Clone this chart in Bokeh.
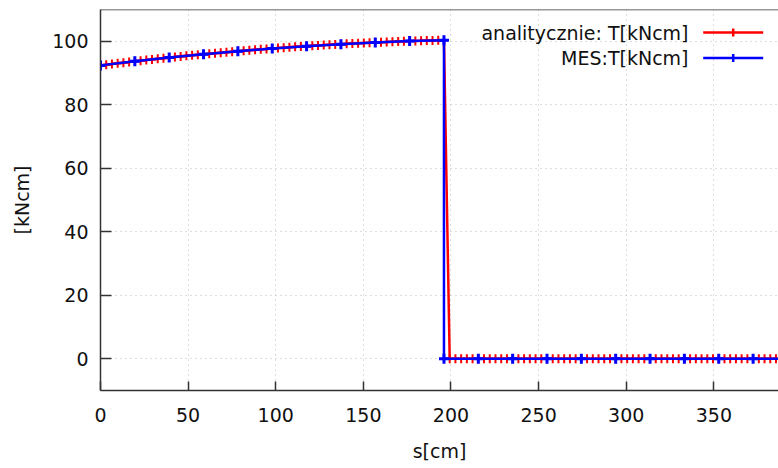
from bokeh.plotting import figure
from bokeh.models import FixedTicker, Span, Label, Arrow, Range1d
from bokeh.embed import file_html
from bokeh.resources import INLINE

# ---------------- data ----------------
# analytical solution: sampled every 392/120 cm; rising part up to s = 196 cm
red_step = 392 / 120
red_rising = [
    92.40, 92.62, 92.84, 93.05, 93.26, 93.47, 93.68, 93.88, 94.08, 94.28,
    94.47, 94.66, 94.85, 95.04, 95.22, 95.40, 95.57, 95.74, 95.91, 96.08,
    96.25, 96.41, 96.56, 96.72, 96.87, 97.02, 97.17, 97.31, 97.45, 97.59,
    97.72, 97.85, 97.98, 98.10, 98.23, 98.34, 98.46, 98.57, 98.68, 98.79,
    98.90, 99.00, 99.09, 99.19, 99.28, 99.37, 99.46, 99.54, 99.62, 99.70,
    99.77, 99.84, 99.91, 99.98, 100.04, 100.10, 100.15, 100.21, 100.26, 100.31,
    100.35,
]
red_zero_count = 60

# FEM solution: nodes every 19.6 cm, discontinuity at s = 196 cm
blue_step = 19.6
blue_rising = [92.40, 93.68, 94.85, 95.91, 96.87, 97.72, 98.46, 99.09, 99.62, 100.04, 100.35]
blue_zero_count = 11

x_ticks = [0, 50, 100, 150, 200, 250, 300, 350]
y_ticks = [0, 20, 40, 60, 80, 100]
x_label = "s[cm]"
y_label = "[kNcm]"
label_red = "analitycznie: T[kNcm]"
label_blue = "MES:T[kNcm]"

red_s = [round(i * red_step, 4) for i in range(len(red_rising) + red_zero_count)]
red_T = red_rising + [0.0] * red_zero_count

blue_s = [round(j * blue_step, 2) for j in range(len(blue_rising))] + \
         [round((len(blue_rising) - 1 + j) * blue_step, 2) for j in range(blue_zero_count)]
blue_T = blue_rising + [0.0] * blue_zero_count

# ---------------- figure ----------------
FONT = "DejaVu Sans"
DARK = "#333333"
RED = "#ff0000"
BLUE = "#0000ff"

p = figure(width=778, height=468, x_range=Range1d(0, 386.9), y_range=Range1d(-10, 110),
           output_backend="svg", toolbar_location=None,
           min_border_left=100, min_border_right=0, min_border_top=9, min_border_bottom=78)
p.outline_line_color = None
p.background_fill_color = "white"
p.border_fill_color = "white"

for ax, ticks, tick_len in ((p.xaxis, x_ticks, 9), (p.yaxis, y_ticks, 11)):
    ax.ticker = FixedTicker(ticks=ticks)
    ax.major_tick_in = tick_len
    ax.major_tick_out = 0
    ax.minor_tick_line_color = None
    ax.axis_line_color = DARK
    ax.axis_line_width = 1.5
    ax.major_tick_line_color = DARK
    ax.major_tick_line_width = 1.5
    ax.major_label_text_font = FONT
    ax.major_label_text_font_size = "19px"
    ax.major_label_text_color = "#111111"
    ax.axis_label_text_font = FONT
    ax.axis_label_text_font_size = "19px"
    ax.axis_label_text_font_style = "normal"
    ax.axis_label_text_color = "#111111"

p.xaxis.axis_label = x_label
p.yaxis.axis_label = y_label
p.xaxis.major_label_standoff = 17
p.xaxis.axis_label_standoff = 15
p.yaxis.major_label_standoff = 12
p.yaxis.axis_label_standoff = 16

for g in (p.xgrid, p.ygrid):
    g.grid_line_color = "#bdbdbd"
    g.grid_line_dash = "1 4"
    g.grid_line_width = 1

p.add_layout(Span(location=p.y_range.end, dimension="width", line_color=DARK, line_width=1.5))

# data
p.line(red_s, red_T, line_color=RED, line_width=2.5)
p.scatter(red_s, red_T, marker="cross", size=9, line_color=RED, line_width=2)
p.line(blue_s, blue_T, line_color=BLUE, line_width=2.5)
p.scatter(blue_s, blue_T, marker="cross", size=10, line_color=BLUE, line_width=3)

# legend (gnuplot style: text right-aligned, sample on the right)
for text, color, sy in ((label_red, RED, 358), (label_blue, BLUE, 332.5)):
    p.add_layout(Label(x=588, y=sy, x_units="screen", y_units="screen", text=text,
                       text_align="right", text_baseline="middle",
                       text_font=FONT, text_font_size="19px", text_color="#111111"))
    p.add_layout(Arrow(end=None, x_start=602.7, y_start=sy, x_end=662.7, y_end=sy,
                       start_units="screen", end_units="screen",
                       line_color=color, line_width=2.5))
    p.add_layout(Arrow(end=None, x_start=632.7, y_start=sy - 4, x_end=632.7, y_end=sy + 4,
                       start_units="screen", end_units="screen",
                       line_color=color, line_width=2.5))

open("out.html", "w").write(file_html(p, INLINE))
